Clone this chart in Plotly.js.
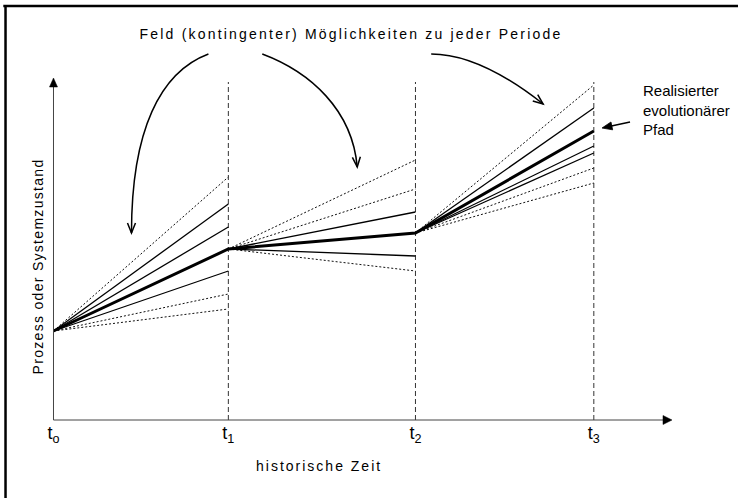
<!DOCTYPE html>
<html><head><meta charset="utf-8">
<script src="https://cdn.plot.ly/plotly-3.0.1.min.js"></script>
<style>html,body{margin:0;padding:0;background:#fff}</style>
</head><body><div id="chart" style="width:738px;height:498px"></div>
<script>
// ---- data ----
const periodLabels = ['t<sub>o</sub>', 't<sub>1</sub>', 't<sub>2</sub>', 't<sub>3</sub>'];
const periodTimes = [0, 1, 2.07, 3.09];
const realizedPath = [8.9, 17.1, 18.7, 28.9];
const period1Solid = [21.6, 19.3, 14.9];
const period1Dotted = [24.3, 12.6, 11.1];
const period2Solid = [20.8, 16.4];
const period2Dotted = [26.0, 23.1, 14.9];
const period3Solid = [31.2, 27.4, 26.7];
const period3Dotted = [33.5, 25.2, 23.7];
const timeAxisEnd = 3.537;
const stateAxisEnd = 34.2;
const periodMarkerTop = 33.8;
const hintArrows = [
  [[0.886, 36.6], [0.611, 34.8], [0.446, 29.0], [0.446, 18.7]],
  [[1.194, 36.6], [1.469, 34.8], [1.709, 31.0], [1.737, 25.3]],
  [[2.160, 36.6], [2.383, 36.6], [2.611, 34.2], [2.800, 31.6]]
];
const pathPointer = [[3.297, 29.8], [3.137, 29.2]];

const titleText = 'Feld (kontingenter) Möglichkeiten zu jeder Periode';
const xTitle = 'historische Zeit';
const yTitle = 'Prozess oder Systemzustand';
const pathNote = 'Realisierter<br>evolutionärer<br>Pfad';

const FONT = 'Arial, "Liberation Sans", sans-serif';
const PX_PER_X = 175, PX_PER_Y = 10;   // axis scale used by the layout below

function fan(periodGroups) {
  const xs = [], ys = [];
  periodGroups.forEach((ends, k) => {
    ends.forEach(v => {
      xs.push(periodTimes[k], periodTimes[k + 1], null);
      ys.push(realizedPath[k], v, null);
    });
  });
  return {x: xs, y: ys};
}
const dottedFan = fan([period1Dotted, period2Dotted, period3Dotted]);
const solidFan = fan([period1Solid, period2Solid, period3Solid]);

const vx = [], vy = [];
for (let k = 1; k < periodTimes.length; k++) {
  vx.push(periodTimes[k], periodTimes[k], null);
  vy.push(0, periodMarkerTop, null);
}

const traces = [
  {type: 'scatter', mode: 'lines', x: vx, y: vy, hoverinfo: 'skip',
   line: {color: '#333', width: 1, dash: '5px,3px'}, showlegend: false},
  {type: 'scatter', mode: 'lines', x: dottedFan.x, y: dottedFan.y, hoverinfo: 'skip',
   line: {color: '#111', width: 1, dash: '2px,2px'}, showlegend: false},
  {type: 'scatter', mode: 'lines', x: solidFan.x, y: solidFan.y, hoverinfo: 'skip',
   line: {color: '#000', width: 1.3}, showlegend: false},
  {type: 'scatter', mode: 'lines', x: periodTimes, y: realizedPath, hoverinfo: 'skip',
   line: {color: '#000', width: 3}, showlegend: false}
];

function bez(p) {
  return 'M' + p[0][0] + ',' + p[0][1] + ' C' + p[1][0] + ',' + p[1][1] + ' ' +
    p[2][0] + ',' + p[2][1] + ' ' + p[3][0] + ',' + p[3][1];
}
// arrow head as a pixel-sized path anchored at the tip; dir in pixels (y up)
function head(tip, dx, dy, len, half, filled, color, width) {
  const n = Math.hypot(dx, dy), ux = dx / n, uy = dy / n;
  const bx = -ux * len, by = -uy * len, px = -uy * half, py = ux * half;
  const a = [bx + px, by + py], b = [bx - px, by - py];
  const path = filled
    ? 'M0,0 L' + a[0] + ',' + a[1] + ' L' + b[0] + ',' + b[1] + ' Z'
    : 'M' + a[0] + ',' + a[1] + ' L0,0 L' + b[0] + ',' + b[1];
  return {type: 'path', xref: 'x', yref: 'y', xsizemode: 'pixel', ysizemode: 'pixel',
    xanchor: tip[0], yanchor: tip[1], path: path,
    fillcolor: filled ? color : 'rgba(0,0,0,0)', line: {color: color, width: width}};
}

const shapes = [];
// axes with arrow heads
shapes.push({type: 'line', xref: 'x', yref: 'y', x0: 0, x1: 0, y0: 0, y1: stateAxisEnd - 0.6,
  line: {color: '#444', width: 1}});
shapes.push({type: 'line', xref: 'x', yref: 'y', x0: 0, x1: timeAxisEnd - 0.03, y0: 0, y1: 0,
  line: {color: '#444', width: 1}});
shapes.push(head([0, stateAxisEnd], 0, 1, 9, 4, true, '#000', 0.5));
shapes.push(head([timeAxisEnd, 0], 1, 0, 9, 4.5, true, '#000', 0.5));
// curved hint arrows
hintArrows.forEach(p => {
  shapes.push({type: 'path', xref: 'x', yref: 'y', path: bez(p), line: {color: '#000', width: 1.5}});
  const dx = (p[3][0] - p[2][0]) * PX_PER_X, dy = (p[3][1] - p[2][1]) * PX_PER_Y;
  shapes.push(head(p[3], dx, dy, 10, 4, false, '#000', 1.5));
});
// pointer to the realised path
shapes.push({type: 'line', xref: 'x', yref: 'y', x0: pathPointer[0][0], y0: pathPointer[0][1],
  x1: pathPointer[1][0] + 0.04, y1: pathPointer[1][1] + 0.15, line: {color: '#000', width: 1.5}});
shapes.push(head(pathPointer[1], (pathPointer[1][0] - pathPointer[0][0]) * PX_PER_X,
  (pathPointer[1][1] - pathPointer[0][1]) * PX_PER_Y, 10, 4, true, '#000', 0.8));
// frame (left and top edges)
shapes.push({type: 'line', xref: 'paper', yref: 'paper', x0: -0.0466, x1: -0.0466, y0: -0.2, y1: 1.1013,
  line: {color: '#000', width: 2.5}});
shapes.push({type: 'line', xref: 'paper', yref: 'paper', x0: -0.05, x1: 1.08, y0: 1.1013, y1: 1.1013,
  line: {color: '#000', width: 2.5}});

const annotations = [
  {xref: 'paper', yref: 'paper', x: 0.4332, y: -0.0935, xanchor: 'center', yanchor: 'middle',
   text: xTitle, showarrow: false, font: {family: FONT, size: 14, color: '#000'}},
  {xref: 'paper', yref: 'paper', x: 0.0023, y: 0.4234, xanchor: 'center', yanchor: 'middle',
   textangle: -90, text: yTitle, showarrow: false, font: {family: FONT, size: 14, color: '#000'}},
  {xref: 'paper', yref: 'paper', x: 0.9251, y: 0.8312, xanchor: 'left', yanchor: 'middle', align: 'left',
   text: pathNote, showarrow: false, font: {family: FONT, size: 15, color: '#000'}}
];

const layout = {
  width: 738, height: 498,
  margin: {l: 35.5, r: 48, t: 45, b: 68},
  paper_bgcolor: '#fff', plot_bgcolor: '#fff',
  font: {family: FONT, color: '#000'},
  title: {text: titleText, x: 0.4756, xref: 'container', xanchor: 'center',
          y: 0.9317, yref: 'container', yanchor: 'middle', font: {family: FONT, size: 14, color: '#000'}},
  xaxis: {range: [-0.1, 3.64], showgrid: false, zeroline: false, showline: false,
          tickmode: 'array', tickvals: periodTimes, ticktext: periodLabels, ticks: '',
          ticklabelstandoff: -10,
          tickfont: {family: FONT, size: 18, color: '#000'}, fixedrange: true},
  yaxis: {range: [-1, 37.5], showgrid: false, zeroline: false, showline: false,
          showticklabels: false, ticks: '', fixedrange: true},
  shapes: shapes,
  annotations: annotations,
  showlegend: false
};

Plotly.newPlot('chart', traces, layout, {staticPlot: true}).then(() => {
  document.querySelectorAll('.gtitle').forEach(t => { t.style.letterSpacing = '2.2px'; });
  document.querySelectorAll('.annotation[data-index="0"] .annotation-text')
    .forEach(t => { t.style.letterSpacing = '2px'; });
  document.querySelectorAll('.annotation[data-index="1"] .annotation-text')
    .forEach(t => { t.style.letterSpacing = '1.3px'; });
});
</script></body></html>
